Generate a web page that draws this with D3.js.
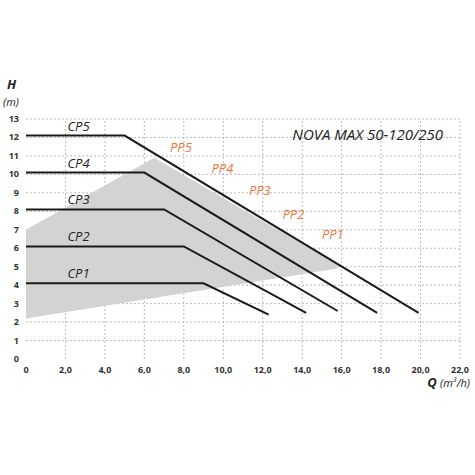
<!DOCTYPE html>
<html><head><meta charset="utf-8">
<script src="https://cdn.jsdelivr.net/npm/d3@7"></script>
<style>body{margin:0;background:#fff;font-family:"Open Sans",sans-serif}</style>
</head><body><div id="chart"></div>
<script>
// curve data: [Q, H]
let curveNames = ["CP1","CP2","CP3","CP4","CP5"];
let curves = [
  [[0,4.1],[9,4.1],[12.3,2.4]],
  [[0,6.1],[8,6.1],[14.2,2.5]],
  [[0,8.1],[7,8.1],[15.8,2.6]],
  [[0,10.1],[6,10.1],[17.8,2.5]],
  [[0,12.1],[5,12.1],[19.9,2.5]]
];
let ppNames = ["PP1","PP2","PP3","PP4","PP5"];
let ppPos = [[15.0,6.5],[13.0,7.6],[11.3,8.9],[9.4,10.1],[7.3,11.2]];
let zone = [[0,2.2],[0,7],[6.5,10.9],[15.8,5.1],[15.8,4.9]];
let xTicks = [0,2,4,6,8,10,12,14,16,18,20,22];
let yTicks = d3.range(0,14);

let svg = d3.select("#chart").append("svg").attr("width",475).attr("height",475);
let x = d3.scaleLinear().domain([0,22]).range([26,460]);
let y = d3.scaleLinear().domain([0,13]).range([359,119]);

// grid
svg.selectAll(".gx").data(xTicks.slice(1)).enter().append("line")
  .attr("x1",d=>x(d)).attr("x2",d=>x(d)).attr("y1",y(0)).attr("y2",y(13))
  .attr("stroke","#aaa").attr("stroke-dasharray","2,2").attr("stroke-width",0.8);
svg.selectAll(".gy").data(yTicks.slice(1)).enter().append("line")
  .attr("x1",x(0)).attr("x2",x(22)).attr("y1",d=>y(d)).attr("y2",d=>y(d))
  .attr("stroke","#aaa").attr("stroke-dasharray","2,2").attr("stroke-width",0.8);

// operating zone
svg.append("path").attr("d",d3.line().x(d=>x(d[0])).y(d=>y(d[1]))(zone)+"Z")
  .attr("fill","#d3d3d3");

// curves
let line = d3.line().x(d=>x(d[0])).y(d=>y(d[1]));
svg.selectAll(".curve").data(curves).enter().append("path")
  .attr("d",line).attr("fill","none").attr("stroke","#1a1a1a").attr("stroke-width",2);

svg.selectAll(".cpl").data(curves).enter().append("text")
  .attr("x",x(2.1)).attr("y",d=>y(d[0][1])-5)
  .attr("font-size",13).attr("font-style","italic").attr("fill","#222")
  .text((d,i)=>curveNames[i]);

svg.selectAll(".ppl").data(ppPos).enter().append("text")
  .attr("x",d=>x(d[0])).attr("y",d=>y(d[1]))
  .attr("font-size",13).attr("font-style","italic").attr("fill","#e8783a")
  .text((d,i)=>ppNames[i]);

// tick labels
svg.selectAll(".xt").data(xTicks).enter().append("text")
  .attr("x",d=>x(d)).attr("y",y(0)+14).attr("text-anchor","middle")
  .attr("font-size",9).attr("font-weight","bold").attr("fill","#333")
  .text(d=>d===0?"0":d.toFixed(1).replace(".",","));
svg.selectAll(".yt").data(yTicks).enter().append("text")
  .attr("x",19).attr("y",d=>y(d)+3).attr("text-anchor","end")
  .attr("font-size",9).attr("font-weight","bold").attr("fill","#333")
  .text(d=>d);

// axis titles
svg.append("text").attr("x",7).attr("y",89).attr("font-size",13).attr("font-weight","bold")
  .attr("font-style","italic").attr("fill","#222").text("H");
svg.append("text").attr("x",3).attr("y",106).attr("font-size",11)
  .attr("font-style","italic").attr("fill","#222").text("(m)");
let q = svg.append("text").attr("x",470).attr("y",387).attr("text-anchor","end")
  .attr("font-size",11).attr("font-style","italic").attr("fill","#222");
q.append("tspan").attr("font-weight","bold").attr("font-size",13).text("Q ");
q.append("tspan").text("(m");
q.append("tspan").attr("font-size",7).attr("dy",-5).text("3");
q.append("tspan").attr("dy",5).text("/h)");

svg.append("text").attr("x",443).attr("y",140).attr("text-anchor","end")
  .attr("font-size",15).attr("font-style","italic").attr("fill","#222")
  .text("NOVA MAX 50-120/250");
</script></body></html>
